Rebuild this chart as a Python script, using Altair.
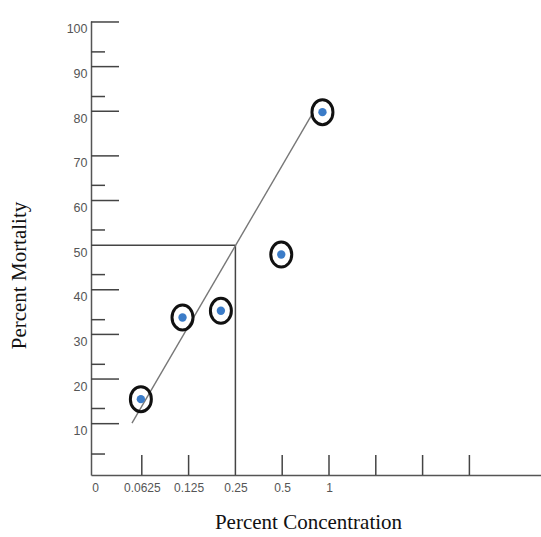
import altair as alt
import pandas as pd

# ---- data ----
x_labels = ["0", "0.0625", "0.125", "0.25", "0.5", "1"]   # label for log2-step position 0..5
x_tick_pos = [1, 2, 4, 5, 6, 7, 8]                       # upward tick marks on x axis
y_major = [10, 20, 30, 40, 60, 70, 80, 90, 100]
y_minor = [3.2, 13.4, 23.3, 33.3, 43.4, 53.4, 63.4, 83.3, 93.3]
y_label_values = [10, 20, 30, 40, 50, 60, 70, 80, 90, 100]

pt_pos = [0.98, 1.87, 2.69, 3.98, 4.86]
pt_mort = [15.5, 33.8, 35.3, 47.9, 79.8]

fit_pos = [0.79, 4.63]
fit_mort = [10.1, 79.2]

lc50_pos = 3.0
lc50_mort = 50

X_MIN, X_MAX = -0.0855, 9.53
Y_MIN, Y_MAX = -1.5, 100.22

W, H = 450, 454

label_expr = "[" + ",".join("'%s'" % s for s in x_labels) + "][datum.value]"

x_scale = alt.Scale(domain=[X_MIN, X_MAX], nice=False, zero=False)
y_scale = alt.Scale(domain=[Y_MIN, Y_MAX], nice=False, zero=False)

x_axis = alt.Axis(
    values=list(range(len(x_labels))), labelExpr=label_expr, ticks=False, grid=False,
    domainColor="#555555", domainWidth=1.5, labelColor="#555555", labelFontSize=12,
    labelFont="Liberation Sans", labelPadding=7, labelFlush=False, labelOverlap=False,
    title="Percent Concentration", titleFont="Liberation Serif", titleFontSize=21,
    titleFontWeight="normal", titleColor="#111111", titleX=217, titleY=47,
    titleAlign="center", titleBaseline="middle",
)
y_axis = alt.Axis(
    values=y_label_values, ticks=False, grid=False, domainColor="#555555", domainWidth=1.5,
    labelColor="#555555", labelFontSize=12.5, labelFont="Liberation Sans", labelPadding=4,
    labelOffset=7, labelFlush=False, labelOverlap=False,
    title="Percent Mortality", titleFont="Liberation Serif", titleFontSize=21,
    titleFontWeight="normal", titleColor="#111111", titleX=-72, titleY=254,
    titleAngle=270, titleAlign="center", titleBaseline="middle",
)


def X(field):
    return alt.X(field, type="quantitative", scale=x_scale, axis=x_axis)


def Y(field):
    return alt.Y(field, type="quantitative", scale=y_scale, axis=y_axis)


major_df = pd.DataFrame({"v": y_major})
minor_df = pd.DataFrame({"v": y_minor})
xt_df = pd.DataFrame({"u": x_tick_pos})
pts_df = pd.DataFrame({"u": pt_pos, "v": pt_mort})
fit_df = pd.DataFrame({"u": fit_pos, "v": fit_mort})
ref_df = pd.DataFrame({
    "u": [X_MIN, lc50_pos], "u2": [lc50_pos, lc50_pos],
    "v": [lc50_mort, Y_MIN], "v2": [lc50_mort, lc50_mort],
})

major = alt.Chart(major_df).mark_rule(color="#444444", strokeWidth=1.5).encode(
    y=Y("v"), x=alt.value(0), x2=alt.value(28))
minor = alt.Chart(minor_df).mark_rule(color="#444444", strokeWidth=1.5).encode(
    y=Y("v"), x=alt.value(0), x2=alt.value(14))
xticks = alt.Chart(xt_df).mark_rule(color="#444444", strokeWidth=1.5).encode(
    x=X("u"), y=alt.value(H), y2=alt.value(H - 20))
ref = alt.Chart(ref_df).mark_rule(color="#444444", strokeWidth=1.5).encode(
    x=X("u"), x2="u2", y=Y("v"), y2="v2")
fit = alt.Chart(fit_df).mark_line(color="#777777", strokeWidth=1.4).encode(
    x=X("u"), y=Y("v"))
ellipse = "M -0.84 0 A 0.84 1 0 1 1 0.84 0 A 0.84 1 0 1 1 -0.84 0 Z"
rings = alt.Chart(pts_df).mark_point(
    shape=ellipse, filled=False, stroke="#111111", strokeWidth=3, size=625, opacity=1
).encode(x=X("u"), y=Y("v"))
dots = alt.Chart(pts_df).mark_circle(color="#3b7cc8", size=70, opacity=1).encode(
    x=X("u"), y=Y("v"))

chart = alt.layer(major, minor, xticks, ref, fit, rings, dots).properties(
    width=W, height=H,
    background="white",
    autosize=alt.AutoSizeParams(type="none"),
    padding={"left": 91, "top": 21, "right": 0, "bottom": 62},
).configure_view(stroke=None)

chart.save("out.html", embed_options={"renderer": "svg", "actions": False})
